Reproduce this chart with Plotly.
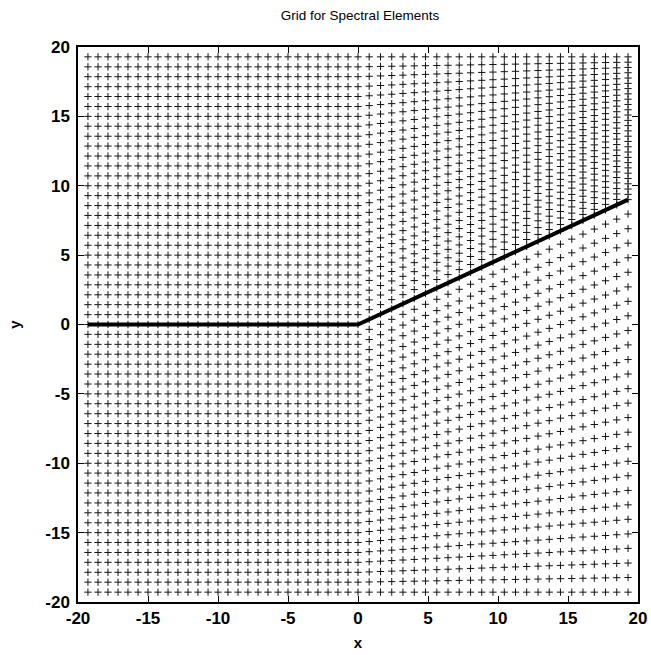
import numpy as np
import plotly.graph_objects as go

# Grid columns of the left (flat-boundary) block
left_cols = [-19.29, -18.57, -17.86, -17.14, -16.43, -15.71, -15.00, -14.29,
             -13.57, -12.86, -12.14, -11.43, -10.71, -10.00, -9.29, -8.57,
             -7.86, -7.14, -6.43, -5.71, -5.00, -4.29, -3.57, -2.86, -2.14,
             -1.43, -0.71, 0.00]
# Grid columns of the right (sloped-boundary) block
right_cols = [0.80, 1.61, 2.41, 3.21, 4.02, 4.82, 5.63, 6.43, 7.23, 8.04,
              8.84, 9.64, 10.45, 11.25, 12.05, 12.86, 13.66, 14.46, 15.27,
              16.07, 16.88, 17.68, 18.48, 19.29]
# Reference row levels (row 0 lies on the boundary)
rows = [-19.29, -18.57, -17.86, -17.14, -16.43, -15.71, -15.00, -14.29,
        -13.57, -12.86, -12.14, -11.43, -10.71, -10.00, -9.29, -8.57, -7.86,
        -7.14, -6.43, -5.71, -5.00, -4.29, -3.57, -2.86, -2.14, -1.43, -0.71,
        0.00, 0.71, 1.43, 2.14, 2.86, 3.57, 4.29, 5.00, 5.71, 6.43, 7.14,
        7.86, 8.57, 9.29, 10.00, 10.71, 11.43, 12.14, 12.86, 13.57, 14.29,
        15.00, 15.71, 16.43, 17.14, 17.86, 18.57, 19.29]
# Boundary (thick line)
boundary_x = [-19.29, 0.0, 19.29]
boundary_y = [0.0, 0.0, 9.0]
# Outer grid edges
grid_top = 19.29
grid_bottom = -19.29
# Axis ticks
tick_vals = [-20, -15, -10, -5, 0, 5, 10, 15, 20]
tick_text = ["-20", "-15", "-10", "-5", "0", "5", "10", "15", "20"]

# Build point sets: rows stretched between boundary and outer edges
px, py = [], []
for cx in left_cols + right_cols:
    yb = float(np.interp(cx, boundary_x, boundary_y))
    for r in rows:
        if r >= 0:
            y = yb + (grid_top - yb) * r / grid_top
        else:
            y = yb + (yb - grid_bottom) * r / (-grid_bottom)
        px.append(cx)
        py.append(y)

fig = go.Figure()
fig.add_trace(go.Scatter(
    x=px, y=py, mode="markers",
    marker=dict(symbol="cross-thin", size=5.2, color="black",
                line=dict(width=1, color="#111111")),
    showlegend=False, hoverinfo="skip"))
fig.add_trace(go.Scatter(
    x=boundary_x, y=boundary_y, mode="lines",
    line=dict(color="black", width=4), showlegend=False, hoverinfo="skip"))

axis_common = dict(
    range=[-20, 20], tickmode="array", tickvals=tick_vals, ticktext=tick_text,
    showgrid=False, zeroline=False, automargin=False,
    showline=True, linecolor="black", linewidth=1.5, mirror="ticks",
    ticks="inside", ticklen=6, tickwidth=1, tickcolor="black",
    tickfont=dict(family="Liberation Sans", size=17, color="black", weight="bold"),
)
fig.update_xaxes(**axis_common,
                 title=dict(text="x", font=dict(family="Liberation Sans", size=15,
                                                color="black", weight="bold"),
                            standoff=10))
fig.update_yaxes(**axis_common, ticklabelstandoff=3,
                 title=dict(text="y", font=dict(family="Liberation Sans", size=15,
                                                color="black", weight="bold"),
                            standoff=21))

fig.update_layout(
    width=651, height=655,
    margin=dict(l=78, r=13, t=47, b=53),
    paper_bgcolor="white", plot_bgcolor="white",
    title=dict(text="Grid for Spectral Elements", x=0.553, xanchor="center",
               y=1 - 15 / 655, yanchor="middle",
               font=dict(family="Liberation Sans", size=13.5, color="black")),
)

# remove the page's default body margin and scrollbars so the figure fills the window
fig.write_html("out.html",
               config={"displayModeBar": False},
               post_script="document.body.style.margin='0px';"
                           "document.body.style.overflow='hidden';")
